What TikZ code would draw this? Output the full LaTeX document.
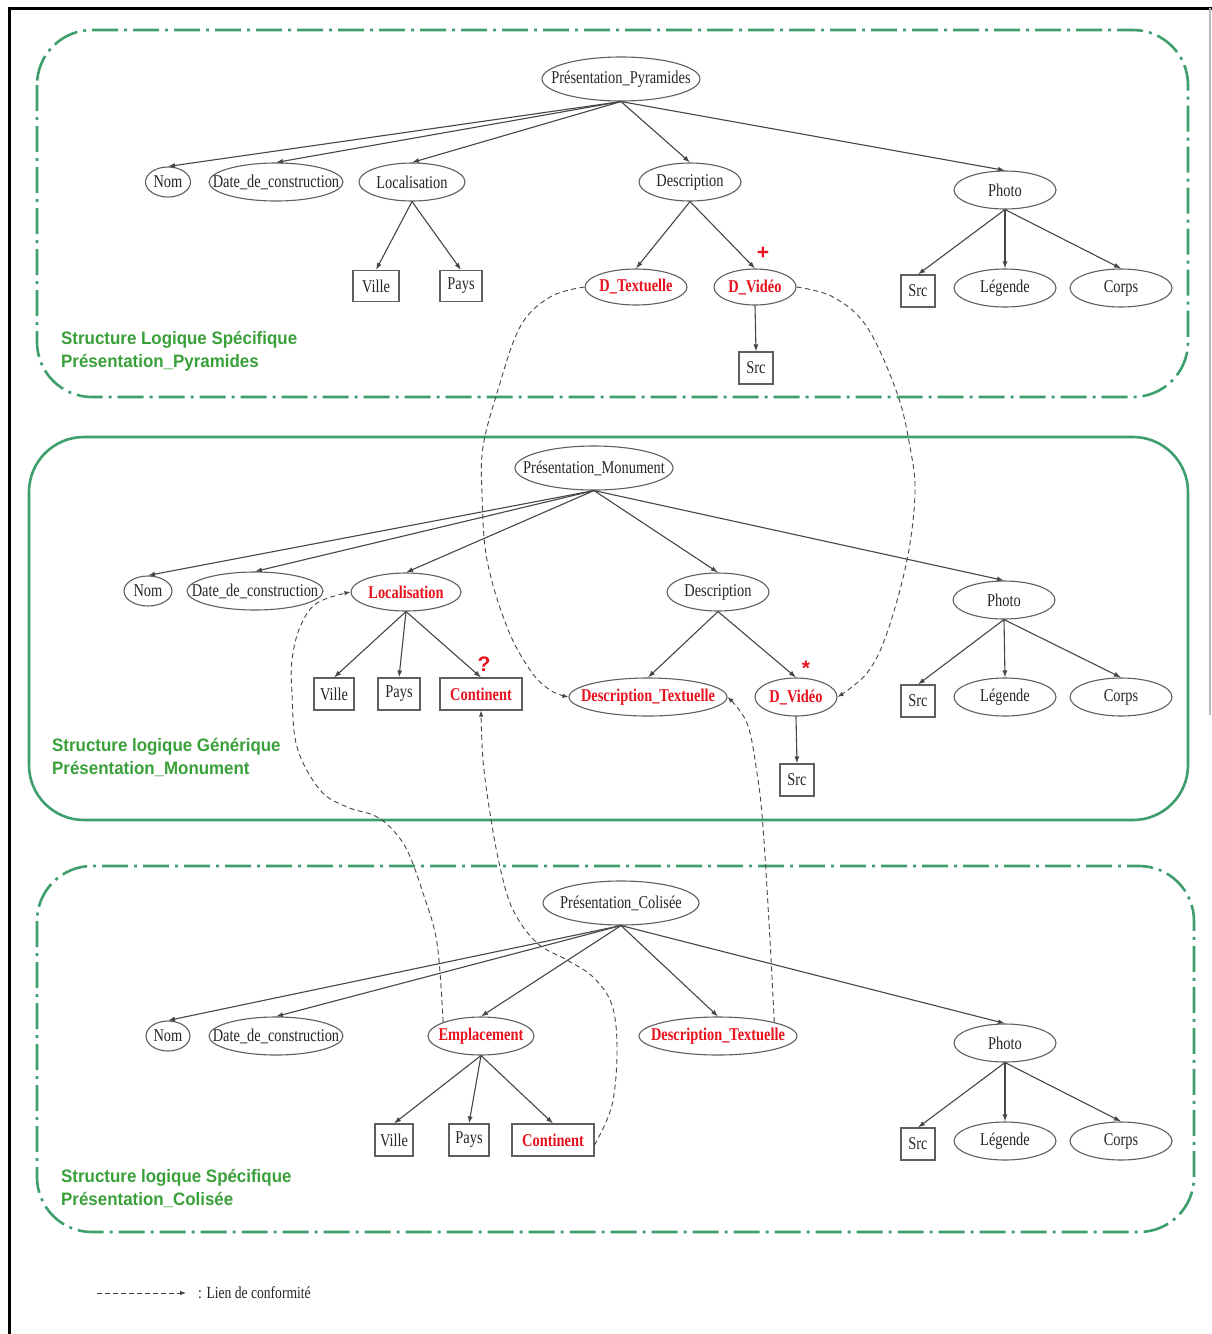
\documentclass[tikz,border=0pt]{standalone}
\usepackage{fontspec}
\setmainfont{Liberation Serif}
\newfontfamily\gvfont[FakeStretch=0.8]{Liberation Serif}
\newfontfamily\lblfont[FakeStretch=0.94]{Liberation Sans}
\newfontfamily\signfont{Liberation Sans}
\usetikzlibrary{shapes.geometric,arrows.meta}

\definecolor{framegreen}{RGB}{62,158,108}
\definecolor{labelgreen}{RGB}{58,160,58}
\definecolor{nodeline}{RGB}{95,95,95}
\definecolor{edgeline}{RGB}{70,70,70}
\definecolor{gvred}{RGB}{232,18,30}
\definecolor{linkgray}{RGB}{70,70,70}

% label text whose width does not enlarge the surrounding shape
\newcommand\gvt[1]{\makebox[0pt][c]{#1}}

\tikzset{
  ov/.style={ellipse, draw=nodeline, line width=1.1pt, inner sep=0pt,
    minimum height=38pt, text=black!85,
    font=\gvfont\fontsize{18}{18}\selectfont},
  bx/.style={rectangle, draw=nodeline, line width=1.1pt, inner sep=0pt,
    minimum height=31pt, text=black!85,
    font=\gvfont\fontsize{18}{18}\selectfont},
  rt/.style={text=gvred, font=\gvfont\bfseries\fontsize{18}{18}\selectfont},
  treeedge/.style={draw=edgeline, line width=1.1pt,
    -{Latex[length=7pt,width=5pt]}},
  conflink/.style={draw=linkgray, line width=0.9pt,
    dash pattern=on 5pt off 3.5pt, -{Latex[length=6pt,width=4.5pt]}},
  dashframe/.style={draw=framegreen, line width=2.6pt, rounded corners=55pt,
    dash pattern=on 26pt off 6pt on 3pt off 6pt},
  solidframe/.style={draw=framegreen, line width=2.6pt, rounded corners=55pt},
  grouplabel/.style={anchor=west, align=left, text=labelgreen, inner sep=0pt,
    font=\lblfont\bfseries\fontsize{18}{23}\selectfont},
  redsign/.style={text=gvred, inner sep=0pt,
    font=\signfont\bfseries\fontsize{21}{21}\selectfont},
}

\begin{document}
\begin{tikzpicture}[x=1pt,y=-1pt]
% page
\fill[white] (0,0) rectangle (1212,1334);
\useasboundingbox (0,0) rectangle (1212,1334);
\draw[black, line width=3pt] (9,1334) -- (9,8) -- (1212,8);
\draw[gray!55, line width=1.5pt] (1210,8) -- (1210,715);

% group frames
\draw[dashframe] (37,30) rectangle (1188,397);
\draw[solidframe] (29,437) rectangle (1188,820);
\draw[dashframe] (37,866) rectangle (1194,1232);

% group labels
\node[grouplabel] (lblA) at (61,351) {Structure Logique Spécifique\\Présentation\_Pyramides};
\node[grouplabel] (lblB) at (52,757) {Structure logique Générique\\Présentation\_Monument};
\node[grouplabel] (lblC) at (61,1188) {Structure logique Spécifique\\Présentation\_Colisée};

% ---------- specific structure: pyramids ----------
\node[ov, minimum width=158pt, minimum height=44pt] (pp) at (621,79) {\gvt{Présentation\_Pyramides}};
\node[ov, minimum width=45pt, minimum height=30pt] (tnom) at (168,182) {\gvt{Nom}};
\node[ov, minimum width=134pt] (tdate) at (276,182) {\gvt{Date\_de\_construction}};
\node[ov, minimum width=106pt] (tloc) at (412,182) {\gvt{Localisation}};
\node[ov, minimum width=102pt] (tdesc) at (690,182) {\gvt{Description}};
\node[ov, minimum width=102pt] (tphoto) at (1005,190) {\gvt{Photo}};
\node[bx, minimum width=46pt] (tville) at (376,286) {\gvt{Ville}};
\node[bx, minimum width=42pt] (tpays) at (461,286) {\gvt{Pays}};
\node[ov, rt, minimum width=102pt, minimum height=36pt] (tdtext) at (636,287) {\gvt{D\_Textuelle}};
\node[ov, rt, minimum width=82pt, minimum height=36pt] (tdvid) at (755,287) {\gvt{D\_Vidéo}};
\node[bx, minimum width=34pt, minimum height=32pt] (tvsrc) at (756,368) {\gvt{Src}};
\node[bx, minimum width=34pt, minimum height=32pt] (tpsrc) at (918,291) {\gvt{Src}};
\node[ov, minimum width=102pt] (tleg) at (1005,288) {\gvt{Légende}};
\node[ov, minimum width=102pt] (tcorps) at (1121,288) {\gvt{Corps}};
\node[redsign] (tplus) at (763,253) {+};

% ---------- generic structure: monument ----------
\node[ov, minimum width=158pt, minimum height=44pt] (pm) at (594,468) {\gvt{Présentation\_Monument}};
\node[ov, minimum width=48pt, minimum height=30pt] (mnom) at (148,591) {\gvt{Nom}};
\node[ov, minimum width=136pt] (mdate) at (255,591) {\gvt{Date\_de\_construction}};
\node[ov, rt, minimum width=110pt] (mloc) at (406,592) {\gvt{Localisation}};
\node[ov, minimum width=102pt] (mdesc) at (718,592) {\gvt{Description}};
\node[ov, minimum width=102pt] (mphoto) at (1004,600) {\gvt{Photo}};
\node[bx, minimum width=40pt, minimum height=32pt] (mville) at (334,694) {\gvt{Ville}};
\node[bx, minimum width=42pt, minimum height=32pt] (mpays) at (399,694) {\gvt{Pays}};
\node[bx, rt, minimum width=82pt, minimum height=32pt] (mcont) at (481,694) {\gvt{Continent}};
\node[ov, rt, minimum width=158pt] (mdtext) at (648,697) {\gvt{Description\_Textuelle}};
\node[ov, rt, minimum width=82pt] (mdvid) at (796,697) {\gvt{D\_Vidéo}};
\node[bx, minimum width=34pt, minimum height=32pt] (mvsrc) at (797,780) {\gvt{Src}};
\node[bx, minimum width=34pt, minimum height=32pt] (mpsrc) at (918,701) {\gvt{Src}};
\node[ov, minimum width=102pt] (mleg) at (1005,697) {\gvt{Légende}};
\node[ov, minimum width=102pt] (mcorps) at (1121,697) {\gvt{Corps}};
\node[redsign] (mquest) at (484,664) {?};
\node[redsign] (mstar) at (806,668) {*};

% ---------- specific structure: colosseum ----------
\node[ov, minimum width=156pt, minimum height=44pt] (pc) at (621,903) {\gvt{Présentation\_Colisée}};
\node[ov, minimum width=44pt, minimum height=30pt] (bnom) at (168,1036) {\gvt{Nom}};
\node[ov, minimum width=134pt] (bdate) at (276,1036) {\gvt{Date\_de\_construction}};
\node[ov, rt, minimum width=106pt] (bempl) at (481,1036) {\gvt{Emplacement}};
\node[ov, rt, minimum width=158pt] (bdtext) at (718,1036) {\gvt{Description\_Textuelle}};
\node[ov, minimum width=102pt] (bphoto) at (1005,1043) {\gvt{Photo}};
\node[bx, minimum width=38pt, minimum height=32pt] (bville) at (394,1140) {\gvt{Ville}};
\node[bx, minimum width=40pt, minimum height=32pt] (bpays) at (469,1140) {\gvt{Pays}};
\node[bx, rt, minimum width=82pt, minimum height=32pt] (bcont) at (553,1140) {\gvt{Continent}};
\node[bx, minimum width=34pt, minimum height=32pt] (bpsrc) at (918,1144) {\gvt{Src}};
\node[ov, minimum width=102pt] (bleg) at (1005,1141) {\gvt{Légende}};
\node[ov, minimum width=102pt] (bcorps) at (1121,1141) {\gvt{Corps}};

% tree edges
\foreach \p/\c in {pp/tnom, pp/tdate, pp/tloc, pp/tdesc, pp/tphoto,
                   tloc/tville, tloc/tpays, tdesc/tdtext, tdesc/tdvid,
                   tdvid/tvsrc, tphoto/tpsrc, tphoto/tleg, tphoto/tcorps,
                   pm/mnom, pm/mdate, pm/mloc, pm/mdesc, pm/mphoto,
                   mloc/mville, mloc/mpays, mloc/mcont, mdesc/mdtext, mdesc/mdvid,
                   mdvid/mvsrc, mphoto/mpsrc, mphoto/mleg, mphoto/mcorps,
                   pc/bnom, pc/bdate, pc/bempl, pc/bdtext, pc/bphoto,
                   bempl/bville, bempl/bpays, bempl/bcont,
                   bphoto/bpsrc, bphoto/bleg, bphoto/bcorps}
  \draw[treeedge] (\p.south) -- (\c.north);

% conformity links
\draw[conflink] plot[smooth, tension=0.6] coordinates {(tdtext.west) (550,297) (520,327) (497,393)
  (483,447) (482,493) (487,560) (507,627) (530,670) (550,690) (mdtext.west)};
\draw[conflink] plot[smooth, tension=0.6] coordinates {(tdvid.east) (833,297) (867,327) (897,393)
  (910,447) (915,493) (907,560) (887,633) (867,673) (mdvid.east)};
\draw[conflink] plot[smooth, tension=0.6] coordinates {(bempl.north west) (437,943) (423,893)
  (407,850) (390,827) (373,815) (347,807) (320,790) (297,747) (292,693) (292,660)
  (300,627) (317,603) (mloc.west)};
\draw[conflink] plot[smooth, tension=0.6] coordinates {([yshift=-5pt]bcont.east) (612,1105) (617,1050)
  (612,1005) (593,977) (567,960) (537,943) (513,910) (500,867) (490,813) (483,760)
  (mcont.south)};
\draw[conflink] plot[smooth, tension=0.6] coordinates {(bdtext.north east) (770,940) (763,827)
  (757,773) (747,723) (mdtext.east)};

% legend
\coordinate (legA) at (97,1293);
\coordinate (legB) at (186,1293);
\node[anchor=west, inner sep=0pt, text=black!85, font=\gvfont\fontsize{17}{17}\selectfont]
  (legtxt) at (198,1293) {: Lien de conformité};
\draw[conflink, dash pattern=on 5pt off 3pt] (legA) -- (legB);
\end{tikzpicture}
\end{document}
